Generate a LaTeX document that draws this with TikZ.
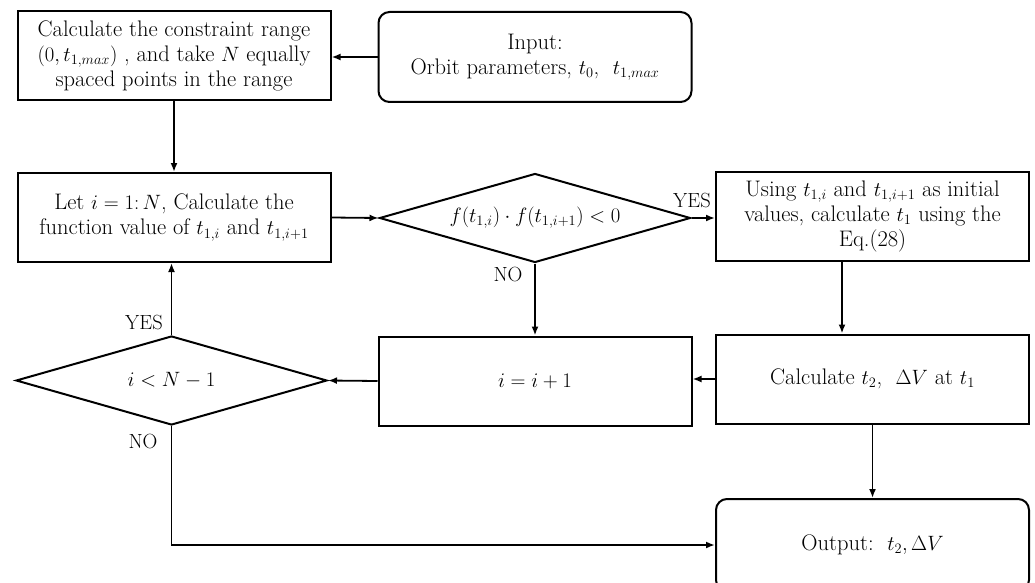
\documentclass[tikz,border=0pt]{standalone}
\usetikzlibrary{arrows.meta,shapes.geometric}
\begin{document}
\begin{tikzpicture}[x=1pt,y=-1pt,
  every node/.style={font=\fontsize{22.5}{25}\selectfont},
  procbox/.style={draw,line width=2pt,rectangle,minimum width=313pt,minimum height=89pt,align=center,inner sep=0pt},
  termbox/.style={draw,line width=2pt,rectangle,rounded corners=11pt,minimum width=313pt,minimum height=90pt,align=center,inner sep=0pt},
  decbox/.style={draw,line width=2pt,diamond,minimum width=311pt,minimum height=89pt,inner sep=0pt},
  conn/.style={line width=1.8pt,-{Latex[length=9pt,width=7pt]}},
  lbl/.style={inner sep=0pt,font=\fontsize{20.5}{22}\selectfont}]
\useasboundingbox (0,0) rectangle (1035,583);
\clip (0,0) rectangle (1035,583);

\node[procbox] (A) at (174,56) {Calculate the constraint range\\ $\bigl(0,t_{1,max}\bigr)$ , and take $N$ equally\\ spaced points in the range};
\node[termbox] (In) at (535,57) {Input:\\ Orbit parameters, $t_0$,\ \ $t_{1,max}$};
\node[procbox] (B) at (174,217.5) {Let $i=1{:}\,N$, Calculate the\\ function value of $t_{1,i}$ and $t_{1,i+1}$};
\node[decbox] (d1) at (535,218) {};
\node (d1t) at (d1.center) {$f(t_{1,i})\cdot f(t_{1,i+1})<0$};
\node[procbox] (C) at (872.5,216.5) {Using $t_{1,i}$ and $t_{1,i+1}$ as initial\\ values, calculate $t_1$\ using the\\ Eq.(28)};
\node[procbox] (E) at (535,381) {$i=i+1$};
\node[decbox] (d2) at (171.5,380.5) {};
\node (d2t) at (d2.center) {$i<N-1$};
\node[procbox] (D) at (872.5,379) {Calculate $t_2$,\ \ $\Delta V$ at $t_1$};
\node[termbox,minimum height=92pt] (Out) at (872.5,545) {Output:\ \ $t_2,\Delta V$};

\coordinate (cx) at (842,0);

\draw[conn] (In.west) -- (A.east |- In.west);
\draw[conn] (A.south) -- (B.north);
\draw[conn] (B.east) -- (d1.west);
\draw[conn] (d1.east) -- (C.west |- d1.east);
\node[lbl] (yes1) at (692,200) {YES};
\draw[conn] (d1.south) -- (E.north);
\node[lbl] (no1) at (508,274) {NO};
\draw[conn] (C.south -| cx) -- (D.north -| cx);
\draw[conn] (D.south) -- (Out.north);
\draw[conn] (D.west) -- (E.east |- D.west);
\draw[conn] (E.west) -- (d2.east);
\draw[conn] (d2.north) -- (B.south -| d2.north);
\node[lbl] (yes2) at (144,322) {YES};
\node[lbl] (no2) at (143,441) {NO};
\draw[conn] (d2.south) |- (Out.west);
\end{tikzpicture}
\end{document}
